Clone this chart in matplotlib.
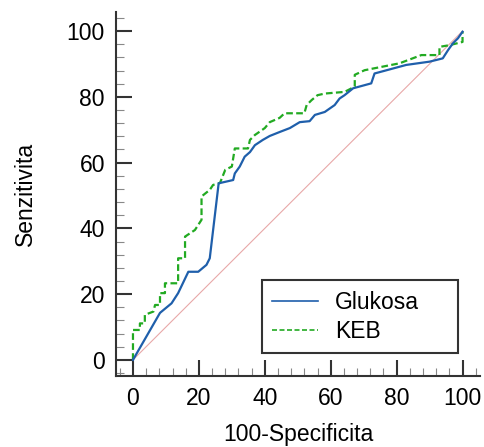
import matplotlib
matplotlib.use("Agg")
import matplotlib.pyplot as plt
from matplotlib.ticker import MultipleLocator
from matplotlib.patches import Rectangle

plt.rcParams['font.family'] = ['Liberation Sans', 'DejaVu Sans']

# Data
glu_x = [0, 8.2, 11.7, 13.7, 16.8, 19.8, 22.3, 23.3, 26.0, 30.4, 30.9, 32.4, 33.9, 35.5, 37.0,
         39.4, 41.5, 44.5, 47.6, 50.6, 53.6, 55.2, 58.2, 61.2, 62.7, 64.2, 66.8, 72.3, 73.3,
         82.9, 90.0, 94.0, 95.6, 97.1, 98.6, 100]
glu_y = [0, 14.3, 17.2, 20.3, 26.8, 26.8, 28.9, 30.9, 53.7, 54.7, 56.7, 58.8, 61.8, 63.2, 65.3,
         66.9, 68.1, 69.3, 70.5, 72.3, 72.6, 74.5, 75.4, 77.5, 79.5, 80.5, 82.6, 84.1, 87.1,
         89.7, 90.7, 91.7, 94.2, 96.3, 97.8, 99.8]

keb_x = [0, 0, 2.1, 2.1, 3.6, 3.6, 6.2, 6.7, 8.2, 8.2, 9.7, 9.7, 13.7, 13.7, 15.8, 15.8, 18.8,
         20.8, 20.8, 23.3, 24.3, 26.4, 28.0, 30.0, 30.9, 34.9, 35.5, 37.0, 40.0, 41.5, 44.5, 46.0,
         52.0, 52.7, 54.2, 56.0, 58.2, 64.2, 67.3, 67.3, 70.3, 80.9, 87.5, 93.0, 93.0, 96.0,
         100, 100]
keb_y = [0, 9.1, 9.1, 11.1, 11.1, 13.7, 14.7, 16.7, 16.7, 20.3, 20.3, 23.3, 23.3, 30.9, 30.9,
         37.5, 39.5, 42.6, 49.7, 51.7, 53.2, 53.8, 57.8, 58.8, 64.3, 64.3, 66.9, 68.4, 70.5, 72.3,
         73.6, 75.0, 75.0, 77.5, 79.0, 80.5, 81.0, 81.5, 83.1, 86.7, 88.1, 90.2, 92.7, 92.7,
         95.2, 95.7, 96.7, 99.8]

diag = [0, 100]
xticks = [0, 20, 40, 60, 80, 100]
yticks = [0, 20, 40, 60, 80, 100]

FS = 16.5

fig = plt.figure(figsize=(4.85, 4.47), dpi=100)
ax = fig.add_axes([116/485, 1 - 376/447, (480 - 116)/485, (376 - 12)/447])

ax.plot(diag, diag, color='#e8a8a8', lw=0.8, zorder=1)
ax.plot(glu_x, glu_y, color='#1f5fab', lw=1.6, label='Glukosa', zorder=3)
ax.plot(keb_x, keb_y, color='#22aa22', lw=1.6, ls=(0, (3, 1.5)), label='KEB', zorder=2)

ax.set_xlim(-5.15, 105.3)
ax.set_ylim(-4.9, 105.8)
for s in ['top', 'right']:
    ax.spines[s].set_visible(False)
for s in ['left', 'bottom']:
    ax.spines[s].set_linewidth(1.5)
    ax.spines[s].set_color('#333333')

ax.set_xticks(xticks)
ax.set_yticks(yticks)
ax.xaxis.set_minor_locator(MultipleLocator(4))
ax.yaxis.set_minor_locator(MultipleLocator(4))
ax.tick_params(which='major', direction='in', length=11.8, width=1.5, color='#333333',
               labelsize=FS, pad=8)
ax.tick_params(which='minor', direction='in', length=5.5, width=0.8, color='#888888')

ax.set_xlabel('100-Specificita', fontsize=FS, labelpad=9)
ax.set_ylabel('Senzitivita', fontsize=FS, labelpad=21)

# legend box drawn in figure pixels
box = Rectangle((262/485, 1 - 353/447), (458 - 262)/485, (353 - 280)/447,
                transform=fig.transFigure, fill=True, facecolor='white',
                edgecolor='#333333', linewidth=1.5, zorder=5)
ax.add_patch(box)
leg = ax.legend(frameon=False, fontsize=FS, handlelength=2.0, borderpad=0.0,
                labelspacing=0.25, loc='center left',
                bbox_to_anchor=(272/485, 1 - 317/447), bbox_transform=fig.transFigure,
                handletextpad=0.75, borderaxespad=0)
leg.set_zorder(6)
for h in leg.get_lines():
    h.set_linewidth(1.2)

fig.savefig('out.png', dpi=100)
